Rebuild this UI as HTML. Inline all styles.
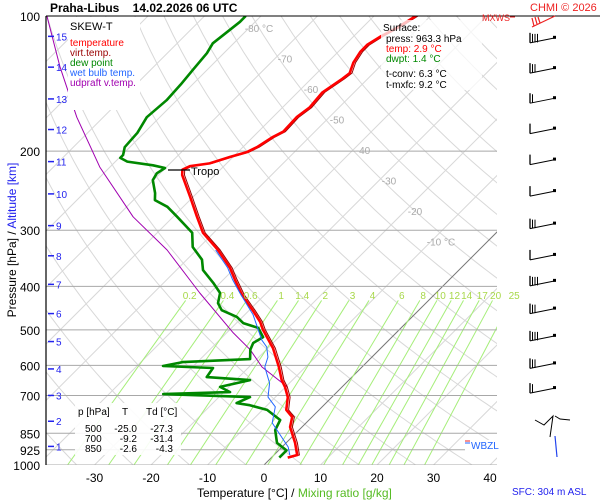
<!DOCTYPE html>
<html><head><meta charset="utf-8">
<style>
html,body{margin:0;padding:0;background:#fff;}
svg{display:block;font-family:"Liberation Sans",sans-serif;}
</style></head>
<body>
<svg id="chart" width="600" height="500" viewBox="0 0 600 500" xmlns="http://www.w3.org/2000/svg">
<defs><clipPath id="plotclip"><rect x="46" y="16" width="451" height="449"/></clipPath></defs>
<rect x="0" y="0" width="600" height="500" fill="#fff"/>
<g id="grid" clip-path="url(#plotclip)"></g>
<g id="series" clip-path="url(#plotclip)"></g>
<g id="overlay"></g>
</svg>
<script>
// ---- data ----
const isobars = [100,200,300,400,500,600,700,850,925,1000];
const tempTicks = [-30,-20,-10,0,10,20,30,40];
const isoLabels = [-80,-70,-60,-50,-40,-30,-20,-10];
const mixRatios = [0.2,0.4,0.6,1,1.4,2,3,4,6,8,10,12,14,17,20,25];
const altKm = [1,2,3,4,5,6,7,8,9,10,11,12,13,14,15];
const altP = [909,799,700,611,531,460,396,342,293,249,211,179,153,130,111];
const tempP = [963,950,893,823,782,754,706,670,647,605,549,521,500,480,452,418,387,364,332,304,280,253,226,220,216,213,206,201,196,186,181,168,160,148,138,134,127,120,116,111,106,100];
const tempT = [2.9,4.1,1.6,-2.1,-3.5,-5.8,-7.8,-10.1,-11.9,-14.7,-19.1,-21.9,-24.1,-26.0,-29.4,-34.0,-37.9,-40.9,-46.2,-51.9,-55.8,-60.5,-65.8,-66.7,-66.0,-63.0,-60.5,-58.4,-57.5,-56.5,-55.6,-55.8,-55.2,-55.6,-54.5,-54.2,-55.4,-56.1,-56.1,-55.2,-53.8,-52.6];
const dewP = [963,928,893,836,794,754,736,728,706,695,688,670,647,637,608,602,590,581,554,535,519,495,483,468,452,436,414,393,368,349,327,304,295,280,266,257,248,232,224,218,215,211,207,204,196,182,168,154,142,132,121,115,109,103,100];
const dewT = [1.4,1.4,-1.6,-4.2,-5.1,-9.2,-13.1,-15.8,-14.5,-30.4,-18.9,-21.6,-17.5,-25.7,-26.2,-35.4,-32.6,-21.2,-22.8,-23.5,-22.8,-25.3,-28.8,-31.0,-34.9,-36.8,-38.2,-41.2,-45.3,-47.3,-51.2,-53.8,-55.8,-59.3,-62.8,-66.2,-67.4,-70.1,-70.6,-70.1,-72.7,-77.9,-79.8,-79.8,-80.9,-81.2,-82.3,-81.8,-82.1,-82.5,-83.0,-83.7,-83.2,-82.7,-82.7];
const wbP = [950,912,806,742,706,657,605,575,546,527,463,414,387,364,332];
const wbT = [2.8,1.1,-6.0,-8.3,-11.3,-13.5,-17.2,-18.4,-20.4,-22.5,-28.5,-34.7,-38.3,-41.3,-46.6];
const updP = [100,130,168,217,280,332,414,508,554,605,670];
const updT = [-117.9,-106.5,-94.7,-81.8,-67.1,-55.2,-41.8,-28.8,-22.8,-17.7,-9.7];
const windP = [113,132,154,180,211,248,293,344,393,453,521,600,681];
const windBarbs = [4,3,2,1,1,1,3,1,4,3,4,3,2];

const NS='http://www.w3.org/2000/svg';
const Y = p => 16 + 449*Math.log10(p/100);
const X = (t,p) => 264 + 5.65*t + (465 - Y(p));
function mk(parent, tag, attrs){const e=document.createElementNS(NS,tag);for(const k in attrs)e.setAttribute(k,attrs[k]);parent.appendChild(e);return e;}
const grid=document.getElementById('grid'), series=document.getElementById('series'), ov=document.getElementById('overlay');

for(let th=230; th<=480; th+=10){
  let pts=[];
  for(let p=1050;p>=95;p-=10){const t=th*Math.pow(p/1000,0.286)-273.15;pts.push(X(t,p).toFixed(1)+','+Y(p).toFixed(1));}
  const l=mk(grid,'polyline',{points:pts.join(' '),fill:'none',stroke:'#d8d8d8','stroke-width':1});
  
  
}
for(let t=-160;t<=50;t+=10){
  const l=mk(grid,'line',{x1:X(t,1050),y1:Y(1050),x2:X(t,90),y2:Y(90),stroke:t===0?'#777':'#d8d8d8','stroke-width':1});
  
  
}
function tdFromW(w,p){const e=w*p/(622+w);const a=Math.log(e/6.112);return 243.5*a/(17.67-a);}
mixRatios.forEach(w=>{
  const l=mk(grid,'line',{x1:X(tdFromW(w,1050),1050),y1:Y(1050),x2:X(tdFromW(w,430),430),y2:Y(430),stroke:'#a6ee7a','stroke-width':1});
  
  
  const tx=mk(ov,'text',{x:X(tdFromW(w,418),418),y:299,'font-size':10,fill:'#a8d84a','text-anchor':'middle'});
  tx.textContent=w;
  
  
});
isobars.forEach(p=>{
  const l=mk(grid,'line',{x1:46,y1:Y(p),x2:497,y2:Y(p),stroke:'#a8a8a8','stroke-width':1});
  
  
  const tx=mk(ov,'text',{x:40,y:Y(p)+5,'font-size':12,fill:'#000','text-anchor':'end'});
  tx.textContent=p;
  
  
});
isoLabels.forEach((t,i)=>{
  const yy=28+i*30.5; const p=100*Math.pow(10,(yy-16)/449);
  const tx=mk(grid,'text',{x:X(t,p)+10,y:yy+4,'font-size':10,fill:'#aaa','text-anchor':'middle'});
  tx.textContent=(t===-80||t===-10)?t+' °C':t;
  
  
});
function line(P,T,color,w,name){
  const pts=P.map((p,i)=>X(T[i],p).toFixed(1)+','+Y(p).toFixed(1)).join(' ');
  const l=mk(series,'polyline',{points:pts,fill:'none',stroke:color,'stroke-width':w,'stroke-linejoin':'round'});
  
  
}
line(updP,updT,'#a000b0',1,'updraft-line');
line(dewP,dewT,'#008800',2.6,'dewpoint-line');
line(tempP,tempT.map(t=>t+0.4),'#990000',1,'virt-temp-line');
line(tempP,tempT,'#ff0000',2.6,'temperature-line');
line(wbP,wbT,'#2266ff',1,'wetbulb-line');

let tr=mk(ov,'line',{x1:168,y1:170,x2:190,y2:170,stroke:'#000','stroke-width':1.2});


let trt=mk(ov,'text',{x:191,y:175,'font-size':11,fill:'#000'});trt.textContent='Tropo';



tempTicks.forEach(t=>{
  const tx=mk(ov,'text',{x:264+5.65*t,y:482,'font-size':12,fill:'#000','text-anchor':'middle'});
  tx.textContent=t;
  
  
});
altKm.forEach((k,i)=>{
  const y=Y(altP[i]);
  const l=mk(ov,'line',{x1:48,y1:y,x2:54,y2:y,stroke:'#2222ee','stroke-width':1.5});
  
  
  const tx=mk(ov,'text',{x:56,y:y+4,'font-size':10,fill:'#2222ee'});tx.textContent=k;
  
  
});
windP.forEach((p,i)=>{
  const y=Y(p);
  const g=mk(ov,'g',{});
  
  
  mk(g,'line',{x1:555,y1:y-2,x2:530,y2:y+3,stroke:'#000','stroke-width':1});
  mk(g,'rect',{x:553,y:y-4,width:3,height:3,fill:'#000'});
  mk(g,'line',{x1:530,y1:y+3,x2:530,y2:y-7,stroke:'#000','stroke-width':1.3});
  for(let b=1;b<windBarbs[i];b++){mk(g,'line',{x1:530+b*2.5,y1:y+2.5,x2:530+b*2.5,y2:y-6,stroke:'#000','stroke-width':1});}
});
</script>
<svg style="position:absolute;left:0;top:0" width="600" height="500" font-family="Liberation Sans, sans-serif">
<line x1="46" y1="16" x2="46" y2="465" stroke="#000" stroke-width="1.2"/>
<line x1="46" y1="16" x2="600" y2="16" stroke="#000" stroke-width="1"/>
<text x="50" y="12" font-size="12" font-weight="bold">Praha-Libus&#160;&#160;&#160;&#160;14.02.2026 06 UTC</text>
<text x="530" y="11" font-size="11" fill="#ee2222">CHMI © 2026</text>
<text x="482" y="21" font-size="9" fill="#ee2222">MXWS</text>
<line x1="510" y1="17" x2="515" y2="17" stroke="#ee2222"/>
<g stroke="#ee2222" stroke-width="1.2"><line x1="555" y1="16" x2="532" y2="27"/><line x1="534" y1="26" x2="532" y2="18"/><line x1="537" y1="24" x2="535" y2="17"/><line x1="540" y1="23" x2="538" y2="17"/></g>
<g stroke="#000" stroke-width="1" fill="none"><polyline points="535,420 544,425 553,416 550,437"/><polyline points="555,416 560,419 570,420"/></g>
<line x1="555" y1="436" x2="557" y2="457" stroke="#2244ee" stroke-width="1.2"/>
<rect x="68" y="17" width="72" height="93" fill="#fff"/>
<g font-size="10">
<text x="70" y="30" font-size="11" fill="#000">SKEW-T</text>
<text x="70" y="46" fill="#ff0000">temperature</text>
<text x="70" y="56" fill="#990000">virt.temp.</text>
<text x="70" y="66" fill="#008800">dew point</text>
<text x="70" y="76" fill="#2266ff">wet bulb temp.</text>
<text x="70" y="86" fill="#a000b0">udpraft v.temp.</text>
</g>
<rect x="381" y="20" width="101" height="70" fill="#fff" fill-opacity="0.75"/>
<g font-size="10">
<text x="383" y="31" fill="#000">Surface:</text>
<text x="386" y="42" fill="#000">press: 963.3 hPa</text>
<text x="386" y="52" fill="#ff0000">temp: 2.9 °C</text>
<text x="386" y="62" fill="#008800">dwpt: 1.4 °C</text>
<text x="386" y="77" fill="#000">t-conv: 6.3 °C</text>
<text x="386" y="88" fill="#000">t-mxfc: 9.2 °C</text>
</g>
<rect x="75" y="403" width="106" height="52" fill="#fff" fill-opacity="0.9"/>
<g font-size="10" fill="#000">
<text x="78" y="415">p [hPa]</text><text x="122" y="415">T</text><text x="146" y="415">Td [°C]</text>
<text x="85" y="432">500</text><text x="137" y="432" text-anchor="end">-25.0</text><text x="173" y="432" text-anchor="end">-27.3</text>
<text x="85" y="442">700</text><text x="137" y="442" text-anchor="end">-9.2</text><text x="173" y="442" text-anchor="end">-31.4</text>
<text x="85" y="452">850</text><text x="137" y="452" text-anchor="end">-2.6</text><text x="173" y="452" text-anchor="end">-4.3</text>
</g>
<rect x="465" y="440" width="32" height="12" fill="#fff"/>
<line x1="465" y1="441" x2="470" y2="441" stroke="#ee2222"/>
<line x1="465" y1="443" x2="470" y2="443" stroke="#2266ff"/>
<text x="471" y="449" font-size="10" fill="#2266ff">WBZL</text>
<text transform="translate(16,240) rotate(-90)" font-size="12" text-anchor="middle"><tspan fill="#000">Pressure [hPa]  /  </tspan><tspan fill="#2222ee">Altitude [km]</tspan></text>
<text x="197" y="497" font-size="12" fill="#000">Temperature [°C]  /  <tspan fill="#55bb22">Mixing ratio [g/kg]</tspan></text>
<text x="512" y="495" font-size="10" fill="#2222ee">SFC: 304 m ASL</text>
</svg>
</body></html>
